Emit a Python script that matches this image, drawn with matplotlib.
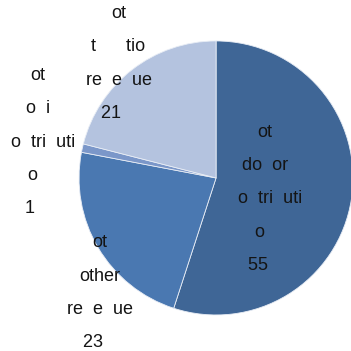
import matplotlib
matplotlib.use("Agg")
import matplotlib.pyplot as plt

# Revenue shares (percent), drawn clockwise from 12 o'clock
shares = [55, 23, 1, 21]
label_lines = [
    ["ot", "do  or", "  o  tri  uti", "o  "],
    ["ot", "other", "re  e  ue"],
    ["ot", "o  i", "  o  tri  uti", "o  "],
    ["ot", "t      tio", "re  e  ue"],
]
colors = ["#3f6696", "#4a78b1", "#7b97c9", "#b4c3df"]

# label block anchor (in pie-radius units)
label_pos = [(0.358, -0.152), (-0.847, -0.838), (-1.30, 0.262), (-0.712, 0.836)]

plt.rcParams["font.family"] = ["Liberation Sans", "DejaVu Sans"]

fig = plt.figure(figsize=(3.51, 3.51), dpi=100)
ax = fig.add_axes([0, 0, 1, 1])
ax.pie(shares, colors=colors, startangle=90, counterclock=False, radius=1,
       wedgeprops=dict(edgecolor="#e8edf5", linewidth=0.6))

for lines, val, (x, y) in zip(label_lines, shares, label_pos):
    text = "\n".join(lines + [f"{val}   "])
    ax.text(x, y, text, ha="center", va="center", multialignment="center",
            fontsize=13, color="#141414", linespacing=2.25)

ax.set_xlim(-1.577, 0.985)
ax.set_ylim(-1.263, 1.299)
ax.set_aspect("equal")
ax.axis("off")
fig.savefig("out.png", dpi=100)
